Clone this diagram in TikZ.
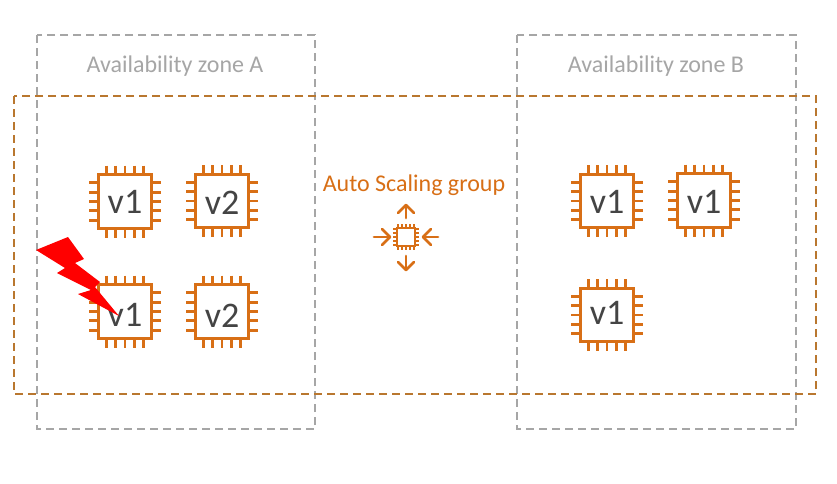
\documentclass[tikz,border=0pt]{standalone}
\usepackage{fontspec}
\setmainfont{Carlito}
\definecolor{chipor}{HTML}{D86F16}
\definecolor{grp}{HTML}{B9772F}
\definecolor{zone}{HTML}{A6A6A6}
\definecolor{lab}{HTML}{444444}
\tikzset{
  zonebox/.style={draw=zone,line width=2pt,dash pattern=on 8pt off 5pt},
  groupbox/.style={draw=grp,line width=2.1pt,dash pattern=on 8pt off 5pt},
  zonelabel/.style={text=zone,font=\fontsize{24}{28}\selectfont,inner sep=0pt},
  grouplabel/.style={text=chipor,font=\fontsize{24}{28}\selectfont,inner sep=0pt},
  chipbody/.style={draw=chipor,line width=3.1pt,fill=white,minimum size=53.5pt,inner sep=0pt},
  chiptext/.style={text=lab,font=\fontsize{36}{40}\selectfont,inner sep=0pt,anchor=base},
  pin/.style={draw=chipor,line width=2.9pt},
  scalearrow/.style={draw=chipor,line width=2.7pt,line cap=round,line join=round},
  chip/.pic={
    \foreach \d in {-18.6,-9.3,0,9.3,18.6}{
      \draw[pin] (\d,-36) -- (\d,36);
      \draw[pin] (-36,\d) -- (36,\d);
    }
  }
}
% name, x, y, text, baseline y
\newcommand{\chipat}[5]{%
  \pic at (#2,#3) {chip};
  \node[chipbody] (#1) at (#2,#3) {};
  \node[chiptext] (#1t) at (#2,#5) {#4};
}
\begin{document}
\begin{tikzpicture}[x=1pt,y=-1pt]
\useasboundingbox (0,0) rectangle (837,483);
\fill[white] (0,0) rectangle (837,483);
\draw[zonebox] (37,35) rectangle (315,429);
\draw[zonebox] (517,35) rectangle (796,429);
\draw[groupbox] (14,96) rectangle (816,394);
\node[zonelabel] (za) at (175,66) {Availability zone A};
\node[zonelabel] (zb) at (656,66) {Availability zone B};
\node[grouplabel] (asg) at (414,185) {Auto Scaling group};
\chipat{a1}{125}{201.5}{v1}{213}
\chipat{a2}{222}{201}{v2}{214}
\chipat{a3}{125}{311.5}{v1}{326}
\chipat{a4}{222}{311.5}{v2}{327}
\chipat{b1}{607}{201}{v1}{213}
\chipat{b2}{704}{200.5}{v1}{213}
\chipat{b3}{607}{315}{v1}{324}
% auto scaling icon
\foreach \d in {-8,-4,0,4,8}{
  \draw[pin,line width=1.6pt] (406+\d,224) -- (406+\d,250);
  \draw[pin,line width=1.6pt] (393,237+\d) -- (419,237+\d);
}
\node[draw=chipor,line width=2.6pt,fill=white,minimum size=18pt,inner sep=0pt] (icon) at (406,237) {};
\draw[scalearrow] (406,218) -- (406,205);
\draw[scalearrow] (398,213) -- (406,205) -- (414,213);
\draw[scalearrow] (406,256) -- (406,270);
\draw[scalearrow] (398,262) -- (406,270) -- (414,262);
\draw[scalearrow] (374,237) -- (390,237);
\draw[scalearrow] (382,229) -- (390,237) -- (382,245);
\draw[scalearrow] (438,237) -- (423,237);
\draw[scalearrow] (431,229) -- (423,237) -- (431,245);
% lightning
\fill[red] (36,250) -- (68,237) -- (84,259) -- (75,263) -- (100,282) -- (95,287) -- (119,316) -- (78,294) -- (91,290) -- (57,273) -- (65,268) -- cycle;
\end{tikzpicture}
\end{document}
